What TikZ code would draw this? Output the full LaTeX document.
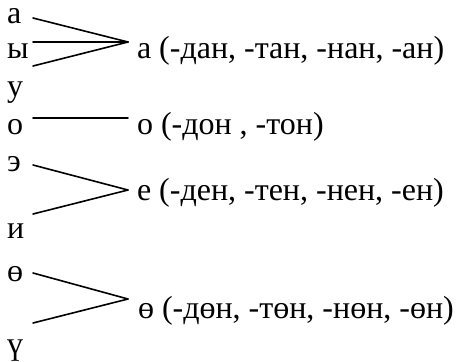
\documentclass[tikz,border=0pt]{standalone}
\usepackage{fontspec}
\setmainfont{Liberation Serif}
\begin{document}
\begin{tikzpicture}[x=1pt,y=-1pt,
  lbl/.style={anchor=base west,inner sep=0pt,outer sep=0pt,text height=15pt,text depth=6pt,font=\fontsize{32}{38}\selectfont},
  conn/.style={line width=1.6pt,line cap=round}]
\useasboundingbox (0,0) rectangle (456,362);
% left letters
\node[lbl] (a)  at (7,23)  {а};
\node[lbl] (y)  at (7,58)  {ы};
\node[lbl] (u)  at (7,96)  {у};
\node[lbl] (o)  at (7,134) {о};
\node[lbl] (e)  at (7,171) {э};
\node[lbl] (i)  at (7,238) {и};
\node[lbl] (oe) at (7,281) {ө};
\node[lbl] (ue) at (7,354) {ү};
% right texts
\node[lbl] (ra) at (137,58)  {а (-дан, -тан, -нан, -ан)};
\node[lbl] (ro) at (137,134) {о (-дон , -тон)};
\node[lbl] (re) at (137,200) {е (-ден, -тен, -нен, -ен)};
\node[lbl] (roe) at (138,318) {ө (-дөн, -төн, -нөн, -өн)};
% connector ends
\coordinate (a1) at (33,18);
\coordinate (y1) at (33,42);
\coordinate (u1) at (33,66);
\coordinate (v1) at (128,42);
\coordinate (o1) at (33,118);
\coordinate (o2) at (128,118);
\coordinate (e1) at (33,165);
\coordinate (i1) at (33,214);
\coordinate (v3) at (128,190);
\coordinate (oe1) at (33,273);
\coordinate (ue1) at (33,323);
\coordinate (v4) at (128,299);
\draw[conn] (a1) -- (v1);
\draw[conn] (y1) -- (v1);
\draw[conn] (u1) -- (v1);
\draw[conn] (o1) -- (o2);
\draw[conn] (e1) -- (v3);
\draw[conn] (i1) -- (v3);
\draw[conn] (oe1) -- (v4);
\draw[conn] (ue1) -- (v4);
\end{tikzpicture}
\end{document}
